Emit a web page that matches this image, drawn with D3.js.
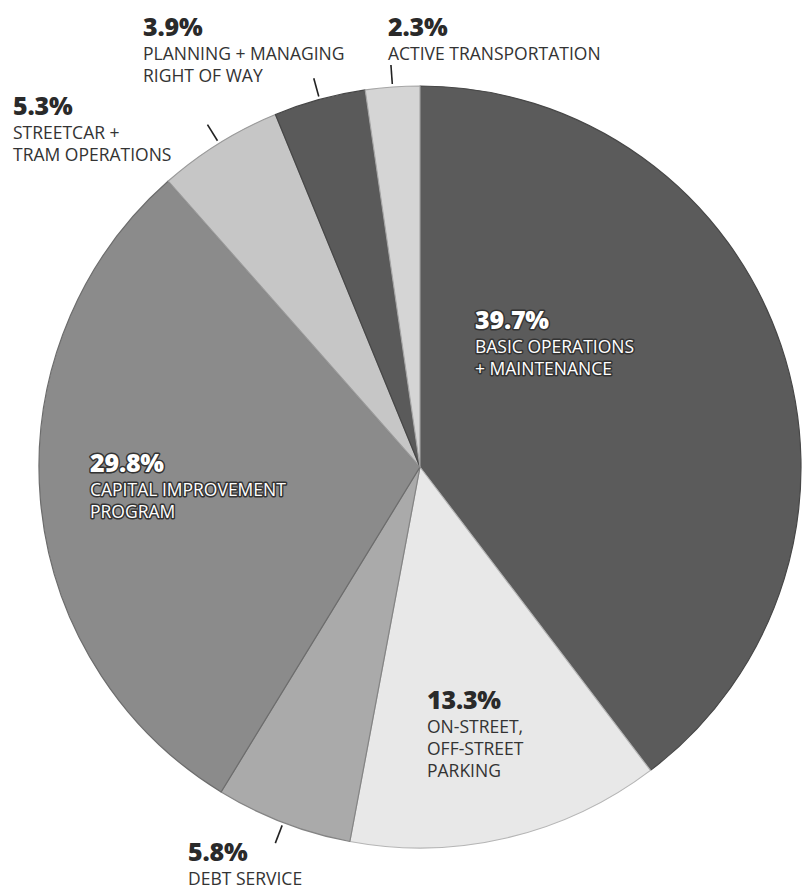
<!DOCTYPE html>
<html>
<head>
<meta charset="utf-8">
<script src="https://cdn.jsdelivr.net/npm/d3@7"></script>
<style>
  html, body { margin: 0; padding: 0; background: #fff; }
  svg { display: block; }
  text { font-family: "Open Sans", "Noto Sans", sans-serif; }
</style>
</head>
<body>
<svg width="807" height="890"></svg>
<script>
// slices, clockwise from 12 o'clock
var categories = ["BASIC OPERATIONS|+ MAINTENANCE", "ON-STREET,|OFF-STREET|PARKING", "DEBT SERVICE",
                  "CAPITAL IMPROVEMENT|PROGRAM", "STREETCAR +|TRAM OPERATIONS", "PLANNING + MANAGING|RIGHT OF WAY",
                  "ACTIVE TRANSPORTATION"];
var shares = [39.7, 13.3, 5.8, 29.8, 5.3, 3.9, 2.3];
var fills = ["#5b5b5b", "#e8e8e8", "#aaaaaa", "#8b8b8b", "#c6c6c6", "#5a5a5a", "#d5d5d5"];

// where each label block sits: [x, baseline of the % line, kind]
var labelPos = [[475, 329, "in"], [427, 709, "inlight"], [188, 861, "out"],
                [90, 472, "in"], [13, 115, "out"], [143, 36, "out"], [388, 36, "out"]];

var svg = d3.select("svg"),
    cx = 420, cy = 467, radius = 381;

var data = categories.map(function(c, i) {
  return {name: c, value: shares[i], fill: fills[i], pos: labelPos[i]};
});

var pie = d3.pie().sort(null).value(function(d) { return d.value; });
var arc = d3.arc().innerRadius(0).outerRadius(radius);

var g = svg.append("g").attr("transform", "translate(" + cx + "," + cy + ")");

var arcs = pie(data);

g.selectAll("path.slice")
  .data(arcs)
  .enter().append("path")
    .attr("class", "slice")
    .attr("d", arc)
    .attr("fill", function(d) { return d.data.fill; })
    .attr("stroke", function(d) { return d3.color(d.data.fill).darker(0.7); })
    .attr("stroke-width", 1.2)
    .attr("stroke-linejoin", "round");

// leader lines for the labels outside the pie
var outside = arcs.filter(function(d) { return d.data.pos[2] == "out"; });
g.selectAll("line.leader")
  .data(outside)
  .enter().append("line")
    .attr("class", "leader")
    .attr("x1", function(d) { var a = (d.startAngle + d.endAngle) / 2; return Math.sin(a) * (radius + 3); })
    .attr("y1", function(d) { var a = (d.startAngle + d.endAngle) / 2; return -Math.cos(a) * (radius + 3); })
    .attr("x2", function(d) { var a = (d.startAngle + d.endAngle) / 2; return Math.sin(a) * (radius + 22); })
    .attr("y2", function(d) { var a = (d.startAngle + d.endAngle) / 2; return -Math.cos(a) * (radius + 22); })
    .attr("stroke", "#222")
    .attr("stroke-width", 1.6);

var labels = svg.selectAll("g.label")
  .data(data)
  .enter().append("g")
    .attr("class", "label")
    .attr("transform", function(d) { return "translate(" + d.pos[0] + "," + d.pos[1] + ")"; });

labels.each(function(d) {
  var el = d3.select(this),
      inside = d.pos[2] == "in",
      col = inside ? "#fff" : "#2a2a2a";

  el.append("text")
      .attr("x", 0).attr("y", 0)
      .style("font-size", "25px")
      .style("font-weight", 800)
      .style("letter-spacing", "-0.2px")
      .attr("fill", col)
      .text(d3.format(".1f")(d.value) + "%");

  var lines = d.name.split("|");
  lines.forEach(function(t, i) {
    el.append("text")
      .attr("x", 0)
      .attr("y", 24 + i * 22)
      .style("font-size", "17.5px")
      .attr("fill", inside ? "#fff" : "#333")
      .text(t);
  });

  if (inside) {
    el.selectAll("text")
      .attr("stroke", "#333")
      .attr("stroke-width", 3)
      .attr("stroke-linejoin", "round")
      .attr("paint-order", "stroke");
  }
});
</script>
</body>
</html>
